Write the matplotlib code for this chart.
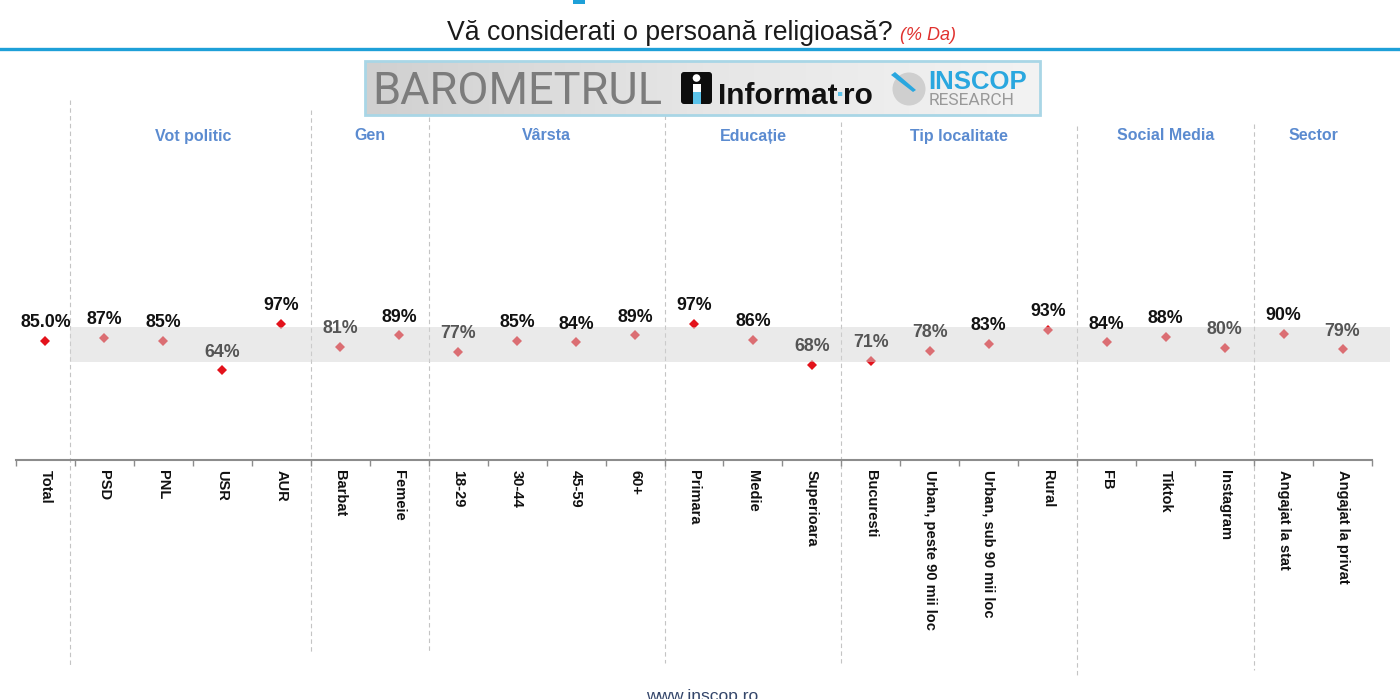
import numpy as np
import matplotlib.pyplot as plt
import matplotlib.transforms as mtransforms
from matplotlib.colors import LinearSegmentedColormap
from matplotlib.lines import Line2D
from matplotlib.patches import Rectangle, FancyBboxPatch, Circle, Polygon

plt.rcParams['font.family'] = ['Liberation Sans', 'DejaVu Sans']

# data
categories = ["Total", "PSD", "PNL", "USR", "AUR", "Barbat", "Femeie",
              "18-29", "30-44", "45-59", "60+", "Primara", "Medie", "Superioara",
              "Bucuresti", "Urban, peste 90 mii loc", "Urban, sub 90 mii loc", "Rural",
              "FB", "Tiktok", "Instagram", "Angajat la stat", "Angajat la privat"]
values = [85.0, 87, 85, 64, 97, 81, 89, 77, 85, 84, 89, 97, 86, 68,
          71, 78, 83, 93, 84, 88, 80, 90, 79]
group_names = ["", "Vot politic", "Gen", "Vârsta", "Educație", "Tip localitate",
               "Social Media", "Sector"]
group_sizes = [1, 4, 2, 4, 3, 4, 3, 2]
band_low, band_high = 70, 95

title = "Vă considerati o persoană religioasă?"
subtitle = "(% Da)"
footer = "www.inscop.ro"

W, H = 1400, 699
fig = plt.figure(figsize=(W / 100, H / 100), dpi=100)


def fx(px):
    return px / W


def fy(py):
    return 1 - py / H


RED = '#e3121b'
BLUE = '#1ea0d8'
HEAD = '#5b8bd0'

ax = fig.add_axes([fx(16), fy(460), (1372 - 16) / W, 140 / H])
ax.patch.set_alpha(0)
x = np.arange(len(categories))
ax.set_xlim(-0.5, len(categories) - 0.5)
ax.set_ylim(0, 100)

ax.plot(x, values, linestyle='none', marker='D', ms=5, mew=0, color=RED,
        zorder=2, clip_on=False)

# grey band laid over the markers
btrans = mtransforms.blended_transform_factory(ax.transAxes, ax.transData)
ax.add_patch(Rectangle((0.04, band_low), 1.013 - 0.04, band_high - band_low,
                       transform=btrans, facecolor='#d4d4d4', alpha=0.48,
                       lw=0, zorder=3, clip_on=False))

for xi, v, cat in zip(x, values, categories):
    txt = f"{v:.1f}%" if cat == "Total" else f"{v:.0f}%"
    col = '#555555' if v < values[0] - 3 else '#111111'
    ax.annotate(txt, (xi, v), xytext=(0, 10), textcoords='offset points',
                ha='center', va='baseline', fontsize=12.8, fontweight='bold',
                color=col, zorder=4, annotation_clip=False)

ax.set_xticks(x)
ax.set_xticklabels(categories, rotation=270, fontsize=10.5, fontweight='bold',
                   color='#111111')
ax.tick_params(axis='x', which='major', length=0, pad=7)
ax.set_xticks(np.arange(-0.5, len(categories)), minor=True)
ax.tick_params(axis='x', which='minor', length=4, width=1, color='#8c8c8c')
ax.set_yticks([])
for s in ['top', 'left', 'right']:
    ax.spines[s].set_visible(False)
ax.spines['bottom'].set_color('#8c8c8c')
ax.spines['bottom'].set_linewidth(1.5)

# group separators and headers
strans = mtransforms.blended_transform_factory(ax.transData, fig.transFigure)
bounds = np.cumsum(group_sizes)[:-1] - 0.5
bounds[0] -= 0.08
sep_top = [100, 110, 117, 115, 122, 126, 124]
sep_bot = [667, 652, 652, 663, 663, 677, 670]
for b, t, bt in zip(bounds, sep_top, sep_bot):
    fig.add_artist(Line2D([b, b], [fy(t), fy(bt)], transform=strans,
                          color='#c4c4c4', lw=0.8, ls=(0, (4, 3)), zorder=0))

start = 0
for name, n in zip(group_names, group_sizes):
    if name:
        fig.text(start + (n - 1) / 2, fy(136), name, transform=strans,
                 ha='center', va='center', fontsize=11.5, fontweight='bold',
                 color=HEAD)
    start += n

# title area
fig.text(fx(447), fy(33), title, ha='left', va='center', fontsize=19.2,
         color='#1a1a1a')
fig.text(fx(900), fy(35), subtitle, ha='left', va='center', fontsize=13,
         style='italic', color='#e0312e')
fig.add_artist(Line2D([0, 1], [fy(49), fy(49)], color=BLUE, lw=2.4))
fig.add_artist(Rectangle((fx(573), fy(4)), 12 / W, 4 / H, color=BLUE, lw=0))

fig.text(fx(702), fy(701), footer, ha='center', va='baseline', fontsize=12.5,
         color='#34466a')

# logo strip
lax = fig.add_axes([fx(365), fy(115), 675 / W, 54 / H])
lax.set_xlim(0, 675)
lax.set_ylim(54, 0)
lax.axis('off')
cmap = LinearSegmentedColormap.from_list('g', ['#d0d0d0', '#e6e6e6', '#f3f3f3'])
lax.imshow(np.linspace(0, 1, 256)[None, :], extent=(0, 675, 54, 0),
           aspect='auto', cmap=cmap, zorder=0)
lax.add_patch(Rectangle((0, 0), 675, 54, fill=False, edgecolor='#a9d6e6',
                        lw=2, clip_on=False, zorder=5))

lax.text(7, 43, "BAROMETRUL", family='Roboto', fontweight='normal',
         fontsize=32.5, color='#7c7c7c', ha='left', va='baseline')

lax.add_patch(FancyBboxPatch((316, 11), 31, 32, boxstyle='round,pad=0,rounding_size=3',
                             facecolor='#0d0d0d', edgecolor='none', zorder=2))
lax.add_patch(Circle((331.5, 17), 3.8, facecolor='white', edgecolor='none', zorder=3))
lax.add_patch(Rectangle((327.5, 23), 8, 8, facecolor='white', lw=0, zorder=3))
lax.add_patch(Rectangle((327.5, 31), 8, 12, facecolor='#5cc3ea', lw=0, zorder=3))

t1 = lax.text(353, 43, "Informat", fontsize=21.5, fontweight='bold',
              color='#111111', ha='left', va='baseline')
t2 = lax.annotate("·", xy=(1, 0), xycoords=t1, xytext=(-1.5, 0),
                  textcoords='offset points', fontsize=21.5, fontweight='bold',
                  color='#5cc3ea', ha='left', va='bottom')
lax.annotate("ro", xy=(1, 0), xycoords=t2, xytext=(-1.5, 0),
             textcoords='offset points', fontsize=21.5, fontweight='bold',
             color='#111111', ha='left', va='bottom')

lax.add_patch(Circle((544, 28), 16.5, facecolor='#cfcfcf', edgecolor='none', zorder=2))
lax.add_patch(Polygon([(526, 14), (530, 11), (551, 29), (548, 31)],
                      closed=True, facecolor='#2aa7df', edgecolor='none', zorder=3))
lax.text(563, 28, "INSCOP", fontsize=18.5, color='#2aa7df', ha='left',
         va='baseline', fontweight='bold')
lax.text(564, 44, "RESEARCH", family='Roboto', fontweight='normal', fontsize=12.5,
         color='#999999', ha='left', va='baseline')

fig.savefig('out.png', dpi=100)
